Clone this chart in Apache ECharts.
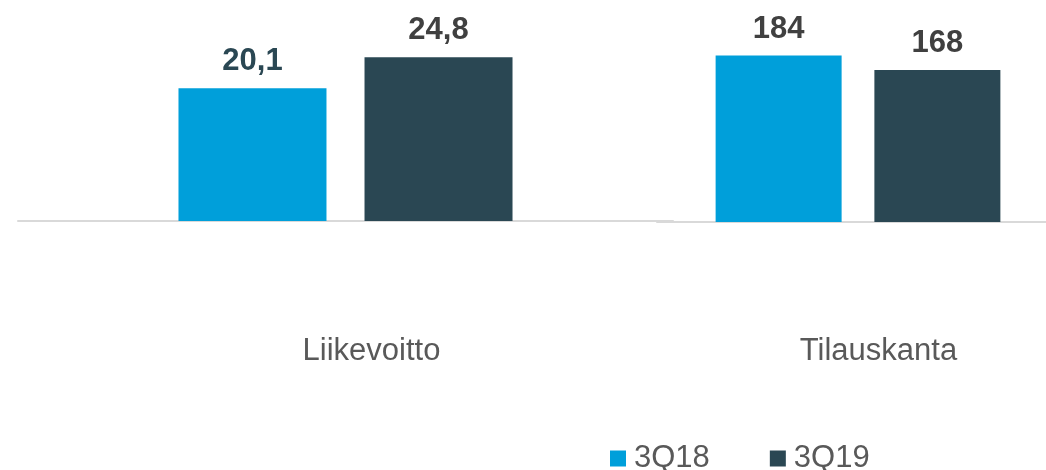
<!DOCTYPE html>
<html>
<head>
<meta charset="utf-8">
<script src="https://cdn.jsdelivr.net/npm/echarts@6/dist/echarts.min.js"></script>
<style>
html,body{margin:0;padding:0;background:#fff;}
#chart{width:1046px;height:470px;}
</style>
</head>
<body>
<div id="chart"></div>
<script>
var seriesNames = ['3Q18', '3Q19'];
var leftCategory = ['Liikevoitto'];
var rightCategory = ['Tilauskanta'];
var liikevoitto = [20.1, 24.8];   // 3Q18, 3Q19
var tilauskanta = [184, 168];     // 3Q18, 3Q19

var FONT = '"Liberation Sans", Arial, sans-serif';
var C18 = '#009fda';
var C19 = '#2a4753';

function fmt(p) { return String(p.value).replace('.', ','); }

var chart = echarts.init(document.getElementById('chart'), null, {renderer: 'canvas'});
chart.setOption({
  animation: false,
  backgroundColor: '#ffffff',
  legend: {
    data: seriesNames,
    left: 610,
    top: 443,
    padding: 0,
    icon: 'rect',
    itemWidth: 16,
    itemHeight: 16,
    itemGap: 60,
    textStyle: {fontFamily: FONT, fontSize: 31, color: '#595959', padding: [0, 0, 0, 3]}
  },
  grid: [
    {left: 18, right: 373, top: 23, bottom: 249, outerBoundsMode: 'none', containLabel: false},
    {left: 657, right: -13, top: 41, bottom: 248, outerBoundsMode: 'none', containLabel: false}
  ],
  xAxis: [
    {type: 'category', gridIndex: 0, data: leftCategory,
     axisLine: {lineStyle: {color: '#d9d9d9', width: 2}}, axisTick: {show: false},
     axisLabel: {margin: 115, fontFamily: FONT, fontSize: 31, color: '#595959', padding: [0, 0, 0, 52]}},
    {type: 'category', gridIndex: 1, data: rightCategory,
     axisLine: {lineStyle: {color: '#d9d9d9', width: 2}}, axisTick: {show: false},
     axisLabel: {margin: 114, fontFamily: FONT, fontSize: 31, color: '#595959', padding: [0, 0, 0, 41]}}
  ],
  yAxis: [
    {type: 'value', gridIndex: 0, min: 0, max: 30, show: false, splitLine: {show: false}},
    {type: 'value', gridIndex: 1, min: 0, max: 200, show: false, splitLine: {show: false}}
  ],
  series: [
    {name: seriesNames[0], type: 'bar', xAxisIndex: 0, yAxisIndex: 0, data: [liikevoitto[0]],
     barWidth: 148, barGap: '25.7%', itemStyle: {color: C18},
     label: {show: true, position: 'top', distance: 11, formatter: fmt, fontFamily: FONT, fontSize: 31, fontWeight: 'bold', color: C19}},
    {name: seriesNames[1], type: 'bar', xAxisIndex: 0, yAxisIndex: 0, data: [liikevoitto[1]],
     barWidth: 148, barGap: '25.7%', itemStyle: {color: C19},
     label: {show: true, position: 'top', distance: 11, formatter: fmt, fontFamily: FONT, fontSize: 31, fontWeight: 'bold', color: '#404040'}},
    {name: seriesNames[0], type: 'bar', xAxisIndex: 1, yAxisIndex: 1, data: [tilauskanta[0]],
     barWidth: 126, barGap: '26%', itemStyle: {color: C18},
     label: {show: true, position: 'top', distance: 11, formatter: fmt, fontFamily: FONT, fontSize: 31, fontWeight: 'bold', color: '#404040'}},
    {name: seriesNames[1], type: 'bar', xAxisIndex: 1, yAxisIndex: 1, data: [tilauskanta[1]],
     barWidth: 126, barGap: '26%', itemStyle: {color: C19},
     label: {show: true, position: 'top', distance: 11, formatter: fmt, fontFamily: FONT, fontSize: 31, fontWeight: 'bold', color: '#404040'}}
  ]
});
</script>
</body>
</html>
